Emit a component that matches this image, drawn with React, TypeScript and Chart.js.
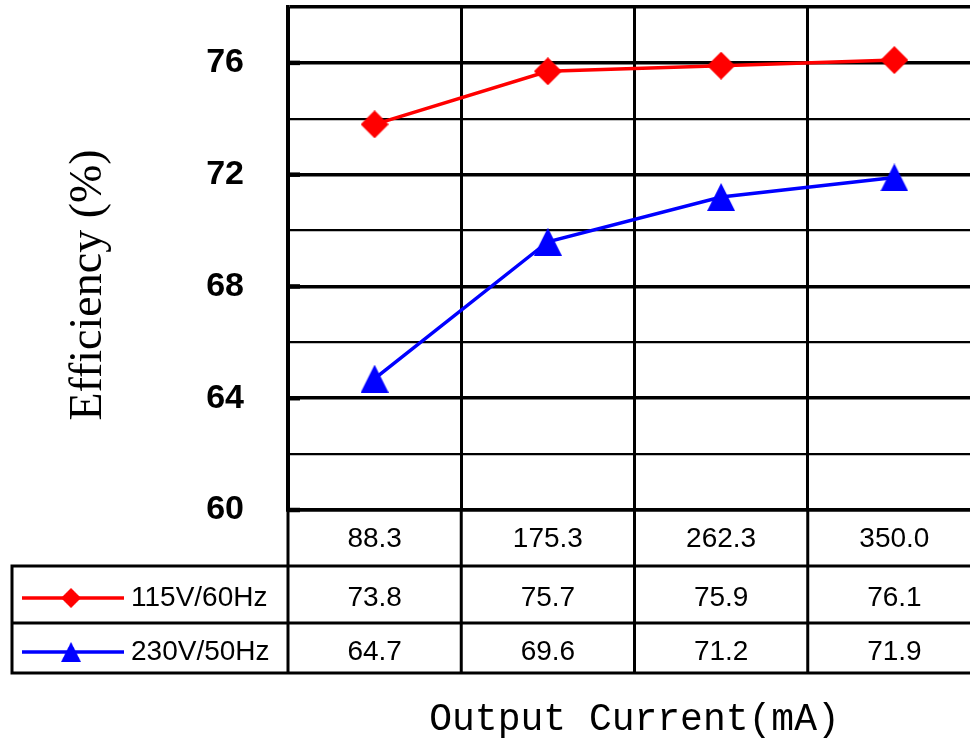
import React, { useEffect, useRef } from 'react';
import { Chart, registerables } from 'chart.js';

Chart.register(...registerables);

// ---- data ----
const currents = ['88.3', '175.3', '262.3', '350.0'];
const seriesNames = ['115V/60Hz', '230V/50Hz'];
const eff115 = [73.8, 75.7, 75.9, 76.1];
const eff230 = [64.7, 69.6, 71.2, 71.9];
const yLabelValues = [60, 64, 68, 72, 76];
const yMin = 60;
const yMax = 78;
const yStep = 2;
const xTitle = 'Output Current(mA)';
const yTitle = 'Efficiency (%)';

const W = 982;
const H = 743;
const RED = '#ff0000';
const BLUE = '#0000ff';
const TABLE_FONT = '28px "Liberation Sans", Arial, sans-serif';

function makeTriangle(size: number, color: string) {
  const c = document.createElement('canvas');
  c.width = size;
  c.height = size;
  const g = c.getContext('2d')!;
  g.fillStyle = color;
  g.beginPath();
  g.moveTo(size / 2, 0);
  g.lineTo(size, size);
  g.lineTo(0, size);
  g.closePath();
  g.fill();
  return c;
}

function makeDiamond(size: number, color: string) {
  const c = document.createElement('canvas');
  c.width = size;
  c.height = size;
  const g = c.getContext('2d')!;
  g.fillStyle = color;
  g.beginPath();
  g.moveTo(size / 2, 0);
  g.lineTo(size, size / 2);
  g.lineTo(size / 2, size);
  g.lineTo(0, size / 2);
  g.closePath();
  g.fill();
  return c;
}

export default function App() {
  const ref = useRef<HTMLCanvasElement>(null);

  useEffect(() => {
    const canvas = ref.current!;
    const diamond = makeDiamond(28, RED);
    const triangle = makeTriangle(28, BLUE);
    const markers = [diamond, triangle];
    const colors = [RED, BLUE];
    const seriesValues = [eff115, eff230];

    const tablePlugin = {
      id: 'dataTable',
      afterDraw(chart: any) {
        const ctx = chart.ctx as CanvasRenderingContext2D;
        const area = chart.chartArea;
        const xs = chart.scales.x;
        const ys = chart.scales.y;
        const n = currents.length;
        const colW = (area.right - area.left) / n;
        const r0 = area.bottom;
        const r1 = r0 + 56;
        const r2 = r0 + 113;
        const r3 = r0 + 163;
        const tableLeft = 12;

        ctx.save();
        // short inner tick marks at labelled values
        ctx.strokeStyle = '#000';
        ctx.lineWidth = 4.5;
        yLabelValues.forEach((v) => {
          const y = ys.getPixelForValue(v);
          ctx.beginPath();
          ctx.moveTo(area.left, y);
          ctx.lineTo(area.left + 12, y);
          ctx.stroke();
        });

        // table lines
        ctx.lineWidth = 3;
        ctx.beginPath();
        for (let i = 0; i <= n; i++) {
          const x = area.left + i * colW;
          ctx.moveTo(x, r0);
          ctx.lineTo(x, r3);
        }
        [r1, r2, r3].forEach((y) => {
          ctx.moveTo(tableLeft, y);
          ctx.lineTo(area.right + 5, y);
        });
        ctx.moveTo(tableLeft, r1 - 1.5);
        ctx.lineTo(tableLeft, r3 + 1.5);
        ctx.stroke();

        // values
        ctx.fillStyle = '#000';
        ctx.font = TABLE_FONT;
        ctx.textAlign = 'center';
        ctx.textBaseline = 'middle';
        const rowCenters = [(r1 + r2) / 2 + 3.5, (r2 + r3) / 2 + 4];
        seriesValues.forEach((vals, s) => {
          vals.forEach((v, i) => {
            ctx.fillText(v.toFixed(1), xs.getPixelForValue(i), rowCenters[s]);
          });
        });

        // legend cells
        seriesNames.forEach((name, s) => {
          const ly = rowCenters[s];
          ctx.strokeStyle = colors[s];
          ctx.lineWidth = 3.5;
          ctx.beginPath();
          ctx.moveTo(22, ly);
          ctx.lineTo(124, ly);
          ctx.stroke();
          ctx.drawImage(markers[s], 71 - 10, ly - 10, 20, 20);
          ctx.fillStyle = '#000';
          ctx.textAlign = 'left';
          ctx.fillText(name, 131, ly);
        });

        // y title
        ctx.translate(89, 285);
        ctx.rotate(-Math.PI / 2);
        ctx.font = '46px "Liberation Serif", "Times New Roman", serif';
        ctx.textAlign = 'center';
        ctx.textBaseline = 'middle';
        ctx.fillStyle = '#000';
        ctx.fillText(yTitle, 0, 0);
        ctx.restore();
      },
    };

    const chart = new Chart(canvas, {
      type: 'line',
      data: {
        labels: currents,
        datasets: [
          {
            label: seriesNames[0],
            data: eff115,
            borderColor: RED,
            backgroundColor: RED,
            borderWidth: 3.5,
            pointStyle: diamond as any,
            pointRadius: 14,
            tension: 0,
          },
          {
            label: seriesNames[1],
            data: eff230,
            borderColor: BLUE,
            backgroundColor: BLUE,
            borderWidth: 3.5,
            pointStyle: triangle as any,
            pointRadius: 14,
            tension: 0,
          },
        ],
      },
      options: {
        responsive: false,
        animation: false,
        devicePixelRatio: 1,
        layout: { autoPadding: false, padding: { left: 0, top: 7, right: 1, bottom: 0 } },
        plugins: {
          legend: { display: false },
          tooltip: { enabled: false },
          title: { display: false },
        },
        scales: {
          x: {
            type: 'category',
            offset: true,
            grid: {
              offset: true,
              color: '#000',
              lineWidth: 3,
              drawTicks: false,
            },
            border: { display: true, color: '#000', width: 3.5 },
            ticks: {
              autoSkip: false,
              maxRotation: 0,
              padding: 12,
              color: '#000',
              font: { family: '"Liberation Sans", Arial, sans-serif', size: 28 },
            },
            title: {
              display: true,
              text: xTitle,
              color: '#000',
              padding: { top: 0, bottom: 0 },
              font: { family: '"Liberation Mono", "Courier New", monospace', size: 38 },
            },
            afterFit(scale: any) {
              scale.height = 233;
              scale.paddingLeft = 0;
              scale.paddingRight = 0;
            },
          },
          y: {
            min: yMin,
            max: yMax,
            grid: {
              color: '#000',
              lineWidth: (c: any) =>
                c.tick && (c.tick.value % 4 === 0 || c.tick.value === yMax) ? 3.5 : 2.2,
              drawTicks: false,
            },
            border: { display: true, color: '#000', width: 3.5 },
            ticks: {
              stepSize: yStep,
              padding: 44,
              color: '#000',
              font: { family: '"Liberation Sans", Arial, sans-serif', size: 34, weight: 'bold' },
              callback: (v: any) => (yLabelValues.includes(Number(v)) ? String(v) : ''),
            },
            afterFit(scale: any) {
              scale.width = 288;
              scale.paddingTop = 0;
              scale.paddingBottom = 0;
            },
          },
        },
      },
      plugins: [tablePlugin],
    });
    return () => chart.destroy();
  }, []);

  return (
    <div
      style={{
        position: 'fixed',
        left: 0,
        top: 0,
        width: 970,
        height: 743,
        overflow: 'hidden',
        background: '#fff',
      }}
    >
      <canvas ref={ref} width={W} height={H} style={{ display: 'block', width: W, height: H }} />
    </div>
  );
}
